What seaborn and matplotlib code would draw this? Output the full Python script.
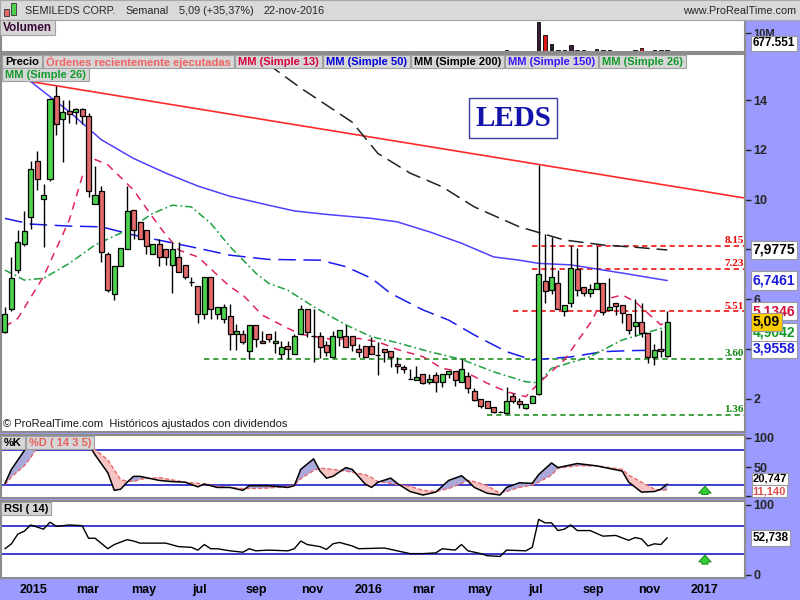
import numpy as np
import pandas as pd
import matplotlib
matplotlib.use("Agg")
import matplotlib.pyplot as plt
from matplotlib.patches import Rectangle
import seaborn as sns

# weekly candles, week 0 = week of 1-dec-2014
first_week = pd.Timestamp("2014-12-01")

opens = [4.68, 5.60, 7.18, 8.21, 9.32, 11.55, 10.01, 10.82, 14.16, 13.23,
         13.57, 13.54, 13.64, 13.37, 9.82, 10.35, 7.80, 6.19, 7.32, 8.01,
         9.59, 9.11, 8.80, 7.80, 8.21, 8.01, 7.39, 7.70, 7.39, 6.70,
         6.53, 5.39, 6.91, 5.39, 5.19, 5.32, 4.60, 4.60, 3.93, 4.98,
         4.32, 4.60, 4.23, 3.78, 4.12, 3.78, 4.60, 5.61, 4.53, 4.53,
         4.16, 3.68, 4.50, 4.53, 4.53, 3.98, 4.12, 4.12, 3.75, 3.98,
         3.92, 3.41, 3.27, 2.79, 2.75, 3.00, 2.68, 2.94, 2.68, 2.98,
         3.12, 2.68, 2.91, 2.30, 1.98, 1.91, 1.66, 1.47, 1.41, 2.12,
         1.91, 1.64, 1.82, 2.17, 6.73, 6.39, 6.66, 5.53, 5.84, 7.21,
         6.48, 6.23, 6.43, 6.66, 5.57, 5.84, 5.77, 5.39, 4.92, 5.07,
         4.66, 3.68, 3.98, 3.71]
highs = [5.70, 7.70, 8.80, 9.55, 11.55, 11.96, 10.62, 14.10, 14.57, 14.00,
         14.03, 13.67, 13.67, 13.48, 11.35, 10.55, 7.91, 7.32, 8.05, 10.55,
         9.59, 9.11, 8.80, 8.21, 8.41, 8.01, 8.32, 8.32, 7.39, 6.91,
         6.53, 6.91, 6.91, 5.70, 5.80, 5.81, 5.00, 4.75, 4.98, 4.98,
         4.71, 4.60, 4.71, 4.32, 4.32, 4.60, 5.77, 5.61, 5.61, 4.68,
         4.32, 4.71, 4.75, 4.96, 4.53, 4.20, 4.12, 4.50, 4.29, 3.98,
         3.92, 3.68, 3.36, 3.19, 3.32, 3.00, 2.98, 3.07, 2.98, 3.12,
         3.12, 3.58, 3.09, 2.41, 1.98, 1.91, 1.66, 1.49, 2.48, 2.23,
         2.02, 1.78, 2.16, 11.39, 8.61, 8.50, 7.18, 5.77, 8.18, 8.05,
         6.48, 6.61, 8.14, 6.66, 6.84, 5.84, 5.77, 5.39, 6.01, 5.84,
         4.66, 4.20, 4.75, 5.51]
lows = [4.65, 5.54, 7.07, 8.15, 8.81, 10.39, 8.11, 10.76, 12.59, 11.52,
        13.07, 13.03, 13.03, 10.11, 9.82, 7.50, 6.30, 5.98, 7.32, 8.01,
        8.41, 8.41, 7.80, 7.80, 7.32, 7.37, 6.23, 7.11, 6.80, 6.53,
        5.03, 5.19, 5.19, 5.19, 5.03, 3.96, 3.96, 4.20, 3.58, 4.09,
        4.23, 4.26, 3.83, 3.58, 3.58, 3.78, 4.60, 4.50, 3.48, 3.62,
        3.71, 3.68, 4.12, 4.09, 3.93, 3.68, 3.68, 3.78, 2.96, 3.48,
        3.29, 3.05, 3.05, 2.79, 2.75, 2.58, 2.58, 2.27, 2.48, 2.82,
        2.51, 2.68, 2.21, 1.91, 1.64, 1.64, 1.41, 1.45, 1.37, 1.82,
        1.64, 1.57, 1.82, 2.15, 5.84, 6.19, 5.60, 5.32, 5.70, 6.12,
        6.12, 6.09, 6.43, 5.36, 5.57, 5.36, 5.04, 4.62, 4.51, 4.48,
        3.45, 3.34, 3.68, 3.68]
closes = [5.39, 6.84, 8.29, 8.73, 11.23, 10.82, 10.21, 14.04, 13.03, 13.54,
          13.44, 13.64, 13.37, 10.35, 10.21, 7.91, 6.39, 7.32, 8.05, 9.55,
          8.80, 8.41, 8.14, 8.21, 7.70, 7.70, 8.01, 7.11, 6.91, 6.70,
          5.39, 6.91, 5.60, 5.70, 5.70, 4.60, 4.71, 4.29, 4.98, 4.39,
          4.23, 4.39, 4.32, 4.07, 3.98, 4.53, 5.61, 4.68, 4.53, 4.07,
          3.89, 4.53, 4.75, 4.09, 4.16, 3.89, 3.68, 3.78, 3.75, 3.89,
          3.68, 3.32, 3.19, 2.79, 2.86, 2.62, 2.78, 2.68, 2.98, 3.12,
          2.75, 3.19, 2.41, 1.96, 1.71, 1.64, 1.48, 1.47, 1.91, 1.89,
          1.78, 1.78, 2.12, 7.01, 6.34, 6.88, 5.60, 5.77, 7.25, 6.39,
          6.23, 6.43, 6.64, 5.50, 5.69, 5.73, 5.43, 4.78, 5.09, 4.66,
          3.68, 3.96, 3.92, 5.09]
# volume in millions of shares
volumes = [0.3, 0.4, 0.4, 0.3, 0.5, 0.4, 0.3, 0.5, 0.4, 0.3,
           0.2, 0.2, 0.2, 0.4, 0.3, 0.4, 0.3, 0.2, 0.2, 0.3,
           0.2, 0.2, 0.2, 0.1, 0.2, 0.1, 0.2, 0.2, 0.1, 0.1,
           0.2, 0.2, 0.2, 0.1, 0.1, 0.2, 0.1, 0.1, 0.2, 0.1,
           0.1, 0.1, 0.1, 0.1, 0.1, 0.1, 0.3, 0.2, 0.2, 0.1,
           0.1, 0.1, 0.1, 0.1, 0.1, 0.1, 0.1, 0.1, 0.1, 0.1,
           0.1, 0.1, 0.1, 0.1, 0.1, 0.1, 0.1, 0.1, 0.1, 0.1,
           0.1, 0.1, 0.1, 0.1, 0.1, 0.2, 0.1, 0.1, 0.6, 0.2,
           0.1, 0.1, 0.2, 16.0, 9.1, 4.1, 0.7, 0.7, 3.5, 0.9,
           0.7, 0.3, 1.3, 0.7, 1.0, 0.5, 0.3, 0.3, 0.6, 2.0,
           0.4, 0.6, 0.6, 0.68]

# moving averages (week index, price)
ma13_weeks = [0, 2, 6, 10, 12, 14, 16, 20, 24, 27, 30, 35, 37, 40, 44, 46, 51, 55, 58, 61,
              65, 68, 72, 75, 78, 81, 83, 87, 91, 93, 96, 98, 100, 102, 103]
ma13_vals = [4.90, 5.23, 6.91, 9.18, 10.93, 11.62, 11.40, 10.39, 8.92, 7.98, 7.70, 6.50, 6.17,
             5.36, 4.83, 4.59, 4.38, 4.42, 4.29, 3.98, 3.69, 3.22, 3.02, 2.62, 2.28, 2.08, 2.62,
             3.56, 5.03, 5.97, 6.17, 5.90, 5.43, 4.97, 5.13]
ma26_weeks = [0, 3, 6, 10, 14, 19, 23, 26, 29, 32, 35, 39, 41, 44, 48, 53, 57, 61, 66, 71,
              76, 81, 83, 85, 91, 96, 103]
ma26_vals = [7.17, 6.77, 6.84, 7.44, 8.18, 8.78, 9.45, 9.78, 9.71, 9.05, 8.11, 7.05, 6.64, 6.36,
             5.70, 4.97, 4.49, 4.25, 3.89, 3.58, 3.08, 2.68, 2.64, 3.22, 3.69, 4.36, 4.90]
ma50_weeks = [0, 4, 10, 15, 20, 25, 30, 35, 41, 49, 53, 57, 60, 65, 69, 73, 78, 82, 88, 93, 97, 103]
ma50_vals = [9.25, 9.02, 8.94, 8.91, 8.58, 8.32, 8.05, 7.77, 7.60, 7.57, 7.31, 6.84, 6.23, 5.57,
             5.16, 4.56, 3.89, 3.56, 3.68, 3.89, 3.93, 3.96]
ma150_weeks = [0, 4, 10, 15, 20, 25, 30, 35, 41, 45, 50, 57, 61, 66, 71, 76, 80, 83, 88, 96, 103]
ma150_vals = [15.7, 14.75, 13.54, 12.41, 11.66, 11.07, 10.55, 10.14, 9.78, 9.55, 9.41, 9.25,
              9.11, 8.71, 8.25, 7.70, 7.57, 7.44, 7.38, 7.05, 6.75]
ma200_weeks = [38, 46, 54, 58, 63, 68, 73, 80, 87, 93, 98, 103]
ma200_vals = [16.0, 14.49, 13.12, 11.86, 11.07, 10.52, 9.71, 8.91, 8.38, 8.18, 8.09, 7.98]

trend_weeks = [4, 115]
trend_vals = [14.75, 10.07]

levels = [8.15, 7.23, 5.51, 3.60, 1.36]
level_starts = [82, 82, 79, 31, 75]
level_colors = ["#ee0000", "#ee0000", "#ee0000", "#118811", "#118811"]

# stochastic %K / %D (14 3 5)
stoch_weeks = [0, 1, 3, 4, 5, 9, 12, 13, 14, 16, 17, 18, 19, 20, 21, 24, 26, 28, 30, 31,
               33, 35, 37, 38, 41, 44, 45, 46, 48, 49, 50, 51, 53, 54, 56, 57, 58, 60, 61, 63,
               65, 67, 69, 71, 72, 73, 75, 77, 78, 80, 82, 83, 85, 86, 89, 92, 96, 97, 99, 101,
               102, 103]
stoch_k = [22, 46, 78, 93, 100, 100, 100, 90, 71, 40, 10, 12, 24, 34, 34, 27, 25, 24, 16, 21,
           15, 15, 10, 18, 18, 15, 18, 46, 64, 43, 31, 34, 49, 46, 21, 15, 24, 31, 22, 8,
           2, 7, 27, 35, 26, 15, 5, 2, 15, 23, 22, 37, 57, 49, 56, 52, 43, 24, 7, 8,
           12, 20.7]
stoch_d = [20, 33, 52, 66, 84, 100, 100, 97, 80, 62, 45, 28, 26, 25, 29, 32, 28, 24, 22, 20,
           17, 15, 13, 13, 14, 17, 19, 30, 44, 48, 47, 46, 43, 41, 37, 32, 25, 22, 20, 17,
           10, 8, 13, 22, 27, 25, 18, 5, 8, 15, 19, 24, 36, 48, 52, 52, 46, 36, 24, 12,
           10, 11.1]

# RSI (14)
rsi_weeks = [0, 1, 2, 3, 4, 6, 7, 8, 10, 12, 13, 14, 16, 17, 19, 20, 21, 25, 27, 29,
             30, 31, 32, 33, 35, 37, 38, 39, 41, 44, 45, 46, 47, 49, 50, 51, 52, 54, 55, 59,
             60, 61, 63, 65, 67, 68, 70, 71, 72, 74, 75, 77, 78, 81, 82, 83, 84, 85, 86, 87,
             88, 89, 91, 93, 95, 97, 98, 99, 100, 101, 102, 103]
rsi_vals = [37, 44, 58, 62, 71, 65, 75, 69, 71, 70, 52, 52, 37, 43, 50, 48, 45, 45, 40, 39,
            35, 43, 37, 37, 34, 32, 37, 34, 35, 34, 37, 48, 43, 40, 36, 44, 46, 41, 37, 38,
            36, 34, 30, 30, 31, 37, 35, 43, 34, 30, 27, 26, 35, 34, 39, 79, 74, 74, 63, 65,
            71, 63, 63, 55, 56, 49, 53, 51, 41, 44, 43, 52.7]

tick_labels = ["2015", "mar", "may", "jul", "sep", "nov", "2016", "mar", "may", "jul",
               "sep", "nov", "2017"]
title_parts = ["SEMILEDS CORP.", "Semanal", "5,09 (+35,37%)", "22-nov-2016"]

sns.set_style("white")
plt.rcParams["font.family"] = ["Liberation Sans", "DejaVu Sans"]

W, H = 800, 600
PURPLE = "#9a9aff"
fig = plt.figure(figsize=(8, 6), dpi=100, facecolor=PURPLE)
renderer = fig.canvas.get_renderer()

XMIN, XMAX = -0.62, 115.09
tick_dates = pd.date_range("2015-01-01", "2017-01-01", freq="2MS")
tick_pos = [(d - first_week).days / 7 for d in tick_dates]
weeks = np.arange(len(closes))


def px_axes(x0, y0, x1, y1):
    return fig.add_axes([x0 / W, 1 - y1 / H, (x1 - x0) / W, (y1 - y0) / H])


def px_text(x, y, s, **kw):
    return fig.text(x / W, 1 - y / H, s, **kw)


def px_rect(x0, y0, x1, y1, **kw):
    fig.add_artist(Rectangle((x0 / W, 1 - y1 / H), (x1 - x0) / W, (y1 - y0) / H,
                             transform=fig.transFigure, **kw))


def label_row(x, y_top, y_bot, labels, colors, size=8):
    for lab, col in zip(labels, colors):
        t = px_text(x + 3, (y_top + y_bot) / 2 + 0.5, lab, color=col, fontsize=size,
                    fontweight="bold", va="center", ha="left", zorder=11)
        w = t.get_window_extent(renderer).width
        px_rect(x, y_top, x + w + 6, y_bot, fc="#d6d6d6", ec="#a0a0a0", lw=0.8, zorder=10)
        x += w + 7


def style_panel(ax):
    ax.set_facecolor("white")
    for s in ax.spines.values():
        s.set_color("#8c8c8c")
        s.set_linewidth(1.5)
    ax.yaxis.tick_right()
    ax.tick_params(axis="y", direction="out", length=4, width=1, pad=2)
    ax.set_xticks(tick_pos)
    ax.tick_params(axis="x", direction="in", length=3, color="#9a9a9a", labelbottom=False)


def value_box(ax, value, text, color, dy=0.0, fc="white", size=10, z=10, pad=0.15):
    ax.annotate(text, xy=(1, value), xycoords=("axes fraction", "data"),
                xytext=(5.5, dy), textcoords="offset points", ha="left", va="center",
                fontsize=size, fontweight="bold", color=color, annotation_clip=False, zorder=z,
                bbox=dict(boxstyle=f"square,pad={pad}", fc=fc, ec="#9a9a9a", lw=0.8))


# ---- title bar ----
px_rect(0, 0, 800, 19.5, fc="#d9d9d9", ec="#a8a8a8", lw=0.8, zorder=1)
px_rect(4, 9, 9, 16, fc="#e26a6a", ec="#333333", lw=0.6, zorder=2)
px_rect(11, 3, 16, 15, fc="#4cd24c", ec="#333333", lw=0.6, zorder=2)
tx = 25
for part in title_parts:
    t = px_text(tx, 10.5, part, fontsize=7.8, va="center")
    tx += t.get_window_extent(renderer).width + 10
px_text(796, 10.5, "www.ProRealTime.com", fontsize=7.8, va="center", ha="right")

# ---- volume ----
axv = px_axes(1, 20, 745, 51.5)
style_panel(axv)
up = np.array(closes) >= np.array(opens)
vol_colors = np.where(up, "#3b1e3b", "#dd1a1a")
axv.bar(weeks, volumes, width=0.55, color=vol_colors, edgecolor="black", lw=0.6)
axv.set_xlim(XMIN, XMAX)
axv.set_ylim(0, 17.2)
axv.set_yticks([10], labels=["10M"], fontsize=8, fontweight="bold")
value_box(axv, volumes[-1], "677.551", "black", dy=5, size=8.5)
label_row(0, 20, 35, ["Volumen"], ["#3a0a3a"], size=8.5)

# ---- price ----
ax = px_axes(1, 54, 745, 432)
style_panel(ax)
for lvl, start, col in zip(levels, level_starts, level_colors):
    ax.hlines(lvl, start, XMAX, colors=col, linestyles=(0, (3.5, 2.5)), lw=1.1, zorder=1)
    ax.annotate(f"{lvl:.2f}", xy=(XMAX, lvl), xytext=(-1, 0.5), textcoords="offset points",
                ha="right", va="bottom", fontsize=8, fontweight="bold", color=col,
                family=["Liberation Serif"])

sns.lineplot(x=trend_weeks, y=trend_vals, ax=ax, color="#ff2a2a", lw=1.2, zorder=2)
sns.lineplot(x=ma150_weeks, y=ma150_vals, ax=ax, color="#5040ff", lw=1.1, zorder=2)
sns.lineplot(x=ma200_weeks, y=ma200_vals, ax=ax, color="#222222", lw=1.1,
             linestyle=(0, (10, 4.5)), zorder=2)
sns.lineplot(x=ma50_weeks, y=ma50_vals, ax=ax, color="#1a1aee", lw=1.1,
             linestyle=(0, (11.5, 5)), zorder=2)
sns.lineplot(x=ma26_weeks, y=ma26_vals, ax=ax, color="#1fa040", lw=1.1,
             linestyle=(0, (5, 2, 1.2, 2)), zorder=2)
sns.lineplot(x=ma13_weeks, y=ma13_vals, ax=ax, color="#e0245e", lw=1.1,
             linestyle=(0, (5, 4)), zorder=2)

o, c, hi, lo = map(np.array, (opens, closes, highs, lows))
body_colors = np.where(c > o, "#4cd24c", np.where(c < o, "#e26a6a", "black"))
ax.vlines(weeks, lo, hi, color="black", lw=1.0, zorder=3)
ax.bar(weeks, np.abs(c - o), bottom=np.minimum(o, c), width=0.78, color=body_colors,
       edgecolor="black", lw=0.9, zorder=4)

ax.set_xlim(XMIN, XMAX)
ax.set_ylim(0.66, 15.86)
# 4 and 8 sit under the value boxes, so only their tick marks show
ax.set_yticks([2, 4, 6, 8, 10, 12, 14], labels=["2", "", "6", "", "10", "12", "14"],
              fontsize=9, fontweight="bold")
ax.set_xlabel("")
ax.set_ylabel("")

value_box(ax, ma200_vals[-1], "7,9775", "black")
value_box(ax, ma150_vals[-1], "6,7461", "#1a1adc")
value_box(ax, ma13_vals[-1], "5,1346", "#d0103a", dy=7.0, z=10.1)
value_box(ax, ma26_vals[-1], "4,9042", "#119a2a", dy=-4.0, z=10.3)
value_box(ax, ma50_vals[-1], "3,9558", "#1a1adc", dy=1.0)
value_box(ax, closes[-1], "5,09", "black", fc="#ffcc00", z=10.5)

label_row(2, 55, 68, ["Precio", "Órdenes recientemente ejecutadas", "MM (Simple 13)",
                      "MM (Simple 50)", "MM (Simple 200)", "MM (Simple 150)", "MM (Simple 26)"],
          ["black", "#f06262", "#d6003a", "#0000dd", "black", "#3c14ff", "#119a2a"])
label_row(2, 68, 81, ["MM (Simple 26)"], ["#119a2a"])

px_text(513, 118, "LEDS", fontsize=21, fontweight="bold", family=["Liberation Serif"],
        color="#1414aa", ha="center", va="center", zorder=12,
        bbox=dict(boxstyle="square,pad=0.22", fc="white", ec="#3a3aaa", lw=1))
px_text(3, 424, "© ProRealTime.com  Históricos ajustados con dividendos", fontsize=8,
        va="center", color="#1a1a1a", zorder=12)

# ---- stochastic ----
axs = px_axes(1, 435, 745, 498)
style_panel(axs)
axs.axhline(80, color="#1c1cc8", lw=1.2, zorder=1)
axs.axhline(20, color="#1c1cc8", lw=1.2, zorder=1)
k_arr, d_arr = np.array(stoch_k, float), np.array(stoch_d, float)
axs.fill_between(stoch_weeks, k_arr, d_arr, where=k_arr >= d_arr, interpolate=True,
                 color="#a9a9dc", lw=0, zorder=2)
axs.fill_between(stoch_weeks, k_arr, d_arr, where=k_arr < d_arr, interpolate=True,
                 color="#f7c4c4", lw=0, zorder=2)
sns.lineplot(x=stoch_weeks, y=stoch_d, ax=axs, color="#e86a6a", lw=1.0,
             linestyle=(0, (3, 1.5)), zorder=3)
sns.lineplot(x=stoch_weeks, y=stoch_k, ax=axs, color="black", lw=1.1, zorder=4)
axs.set_xlim(XMIN, XMAX)
axs.set_ylim(-3.1, 104.9)
axs.set_yticks([0, 50, 100], labels=["", "50", "100"], fontsize=9, fontweight="bold")
axs.set_xlabel("")
axs.set_ylabel("")
value_box(axs, stoch_k[-1], "20,747", "black", dy=3.8, size=8, pad=0.08)
value_box(axs, stoch_d[-1], "11,140", "#e05050", dy=-1.2, size=8, z=10.2, pad=0.08)
arrow_x = tick_pos[-1]
axs.annotate("", xy=(arrow_x, 22), xytext=(arrow_x, -2),
             arrowprops=dict(arrowstyle="simple,head_width=0.9,head_length=0.5,tail_width=0.45",
                             fc="#33cc33", ec="#117711", lw=0.6))
label_row(1, 436, 449, ["%K", "%D ( 14 3 5)"], ["black", "#e86060"])

# ---- RSI ----
axr = px_axes(1, 501, 745, 578)
style_panel(axr)
axr.axhline(70, color="#1c1cc8", lw=1.2, zorder=1)
axr.axhline(30, color="#1c1cc8", lw=1.2, zorder=1)
sns.lineplot(x=rsi_weeks, y=rsi_vals, ax=axr, color="black", lw=1.0, zorder=3)
axr.set_xlim(XMIN, XMAX)
axr.set_ylim(-4.9, 105.3)
axr.set_yticks([0, 100], labels=["0", "100"], fontsize=9, fontweight="bold")
axr.set_xlabel("")
axr.set_ylabel("")
value_box(axr, rsi_vals[-1], "52,738", "black", size=8.5)
axr.annotate("", xy=(arrow_x, 32), xytext=(arrow_x, 11),
             arrowprops=dict(arrowstyle="simple,head_width=0.9,head_length=0.5,tail_width=0.45",
                             fc="#33cc33", ec="#117711", lw=0.6))
axr.set_xticks(tick_pos, labels=tick_labels, fontsize=9, fontweight="bold")
axr.tick_params(axis="x", labelbottom=True, pad=4, labelcolor="black")
label_row(1, 502, 515, ["RSI ( 14)"], ["black"])

fig.savefig("out.png", dpi=100, facecolor=fig.get_facecolor())
